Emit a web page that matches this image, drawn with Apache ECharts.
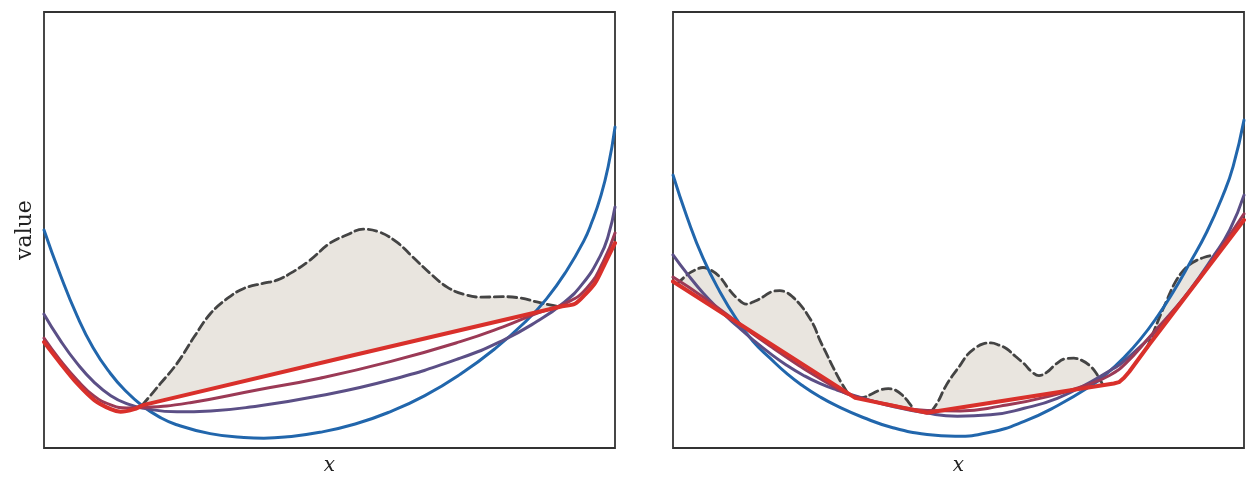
<!DOCTYPE html>
<html><head><meta charset="utf-8">
<script src="https://cdn.jsdelivr.net/npm/echarts@6/dist/echarts.min.js"></script>
<style>html,body{margin:0;padding:0;background:#fff}#c{width:1254px;height:484px}</style>
</head><body><div id="c"></div>
<script>
// ---------- LEFT PANEL ----------
const leftBlueX = [0, 2.8, 5.8, 8.6, 11.6, 14.4, 17.2, 20.1, 23.1, 29.1, 35.0, 38.5, 42.2, 48.3, 54.5, 60.6, 66.7, 72.9, 79.0, 84.5, 88.0, 91.5, 94.5, 96.0, 97.4, 98.8, 100];
const leftBlueY = [50.0, 39.9, 30.3, 23.0, 17.15, 12.95, 9.7, 7.2, 5.4, 3.3, 2.4, 2.25, 2.5, 3.6, 5.5, 8.3, 12.0, 16.9, 22.8, 29.2, 34.2, 40.6, 47.4, 52.0, 57.3, 64.5, 73.6];

const leftPurpleX = [0, 2.8, 5.8, 8.8, 11.7, 14.6, 17.5, 23.3, 29.2, 36.1, 48.3, 60.6, 72.9, 80.4, 86.3, 90.9, 94.4, 97.4, 98.8, 100];
const leftPurpleY = [30.7, 24.8, 19.4, 15.05, 12.0, 10.1, 9.1, 8.3, 8.5, 9.4, 12.0, 15.6, 20.6, 24.7, 29.0, 33.2, 37.8, 44.0, 48.6, 55.3];

const leftMaroonX = [0, 2.8, 5.8, 8.8, 11.7, 14.5, 17.5, 25.6, 37.3, 48.3, 60.6, 72.9, 80.4, 86.3, 91.5, 95.0, 97.9, 100];
const leftMaroonY = [25.2, 20.2, 15.6, 11.9, 9.9, 9.2, 9.3, 10.4, 13.3, 16.0, 19.8, 24.4, 27.8, 30.9, 33.3, 36.6, 42.6, 49.3];

const leftRedX = [0, 2.9, 5.8, 8.8, 11.7, 13.4, 15.8, 17.5, 90.4, 93.0, 94.7, 96.5, 98.2, 100];
const leftRedY = [24.3, 19.4, 14.8, 11.0, 8.9, 8.3, 8.9, 9.9, 32.4, 33.1, 35.1, 37.8, 42.2, 47.0];

const leftDashX = [17.2, 20.4, 23.3, 26.3, 29.2, 32.1, 35.0, 38.5, 40.8, 43.6, 46.6, 50.1, 53.1, 55.9, 58.8, 61.8, 64.6, 67.6, 70.6, 73.4, 76.4, 80.4, 83.4, 86.3, 88.6, 90.4];
const leftDashY = [9.8, 14.8, 19.4, 25.5, 30.9, 34.3, 36.6, 37.8, 38.5, 40.4, 43.1, 47.0, 48.9, 50.2, 49.5, 47.2, 43.8, 40.1, 36.9, 35.3, 34.6, 34.7, 34.4, 33.5, 32.8, 32.4];

// ---------- RIGHT PANEL ----------
const rightBlueX = [0, 2.45, 5.25, 8.23, 11.2, 14.0, 17.0, 20.0, 22.8, 25.7, 28.7, 33.3, 38.5, 44.5, 49.4, 55.5, 61.5, 67.3, 73.0, 76.0, 78.8, 81.8, 84.8, 87.6, 90.5, 93.5, 96.3, 98.1, 100];
const rightBlueY = [62.6, 53.0, 43.6, 35.8, 29.4, 24.5, 20.6, 17.0, 14.2, 11.75, 9.65, 7.0, 4.65, 3.1, 2.7, 3.6, 6.1, 9.7, 14.1, 17.1, 20.5, 24.85, 30.1, 35.8, 42.4, 49.6, 57.9, 64.6, 75.2];

const rightPurpleX = [0, 2.4, 5.3, 8.2, 11.2, 14.1, 17.0, 19.9, 22.8, 25.7, 28.7, 33.3, 38.9, 44.4, 49.8, 55.6, 61.5, 67.3, 73.2, 76.7, 78.8, 84.8, 90.5, 94.6, 97.5, 100];
const rightPurpleY = [44.3, 40.1, 35.5, 31.6, 28.0, 24.7, 21.7, 19.0, 16.7, 14.8, 13.3, 11.4, 9.4, 8.0, 7.3, 7.6, 9.1, 11.4, 15.2, 17.9, 19.7, 27.1, 36.2, 43.9, 50.0, 58.0];

const rightMaroonX = [0, 5.3, 17.0, 28.5, 32.2, 38.0, 44.5, 50.3, 57.3, 66.0, 73.0, 76.5, 79.2, 83.5, 90.5, 94.6, 100];
const rightMaroonY = [39.2, 34.6, 23.4, 13.8, 11.7, 9.9, 8.6, 8.5, 9.6, 11.9, 14.7, 16.7, 19.3, 25.5, 36.0, 43.3, 53.7];

const rightRedX = [0, 31.9, 44.5, 77.2, 78.1, 79.0, 79.9, 83.5, 100];
const rightRedY = [38.2, 11.5, 8.1, 14.8, 15.1, 16.1, 17.5, 23.9, 52.3];

const rightDashAX = [0.7, 2.45, 3.85, 5.25, 6.65, 8.23, 9.63, 11.2, 12.8, 14.4, 15.8, 17.2, 18.7, 20.0, 21.0, 22.2, 23.5, 24.7, 25.7, 27.0, 28.0, 29.2, 30.5];
const rightDashAY = [37.6, 39.7, 40.8, 41.4, 40.8, 39.2, 36.7, 34.4, 33.0, 33.7, 34.7, 35.8, 36.1, 35.6, 34.6, 33.0, 30.7, 28.0, 24.8, 21.3, 18.6, 15.6, 12.8];
const rightDashBX = [32.2, 33.4, 34.8, 36.3, 37.7, 38.9, 40.1, 41.2, 42.2];
const rightDashBY = [11.4, 11.6, 12.4, 13.3, 13.6, 13.3, 12.2, 10.6, 8.8];
const rightDashCX = [45.2, 46.4, 47.6, 48.9, 50.3, 51.5, 52.9, 54.3, 55.7, 57.1, 58.5, 59.9, 61.5, 62.9, 64.1, 65.5, 67.1, 68.8, 70.2, 71.6, 72.9, 74.1, 75.3];
const rightDashCY = [8.3, 10.6, 13.8, 16.5, 19.0, 21.3, 22.9, 23.9, 24.1, 23.6, 22.7, 21.1, 19.3, 17.4, 16.6, 17.4, 19.3, 20.5, 20.6, 20.1, 19.0, 17.2, 14.4];
const rightDashDX = [83.0, 84.1, 85.3, 86.5, 87.7, 89.0, 90.4, 91.8, 93.2, 94.4, 95.5];
const rightDashDY = [22.9, 26.4, 30.3, 33.9, 37.4, 40.1, 42.0, 43.1, 43.8, 44.2, 44.5];

// ---------- helpers ----------
const C = { blue: '#2166ac', purple: '#5b4f86', maroon: '#9b3a56', red: '#d9302b', dash: '#444444', fill: '#e9e5df', frame: '#333333' };
function pairs(xs, ys) { return xs.map((x, i) => [x, ys[i]]); }
function region(dx, dy, rx, ry) {
  const a = dx[0], b = dx[dx.length - 1];
  const inner = pairs(rx, ry).filter(p => p[0] > a && p[0] < b).reverse();
  return pairs(dx, dy).concat(inner);
}
function fillSeries(idx, poly) {
  return {
    type: 'custom', xAxisIndex: idx, yAxisIndex: idx, data: [[50, 50]], z: 1, silent: true,
    renderItem: function (params, api) {
      return { type: 'polygon', shape: { points: poly.map(p => api.coord(p)) }, style: { fill: C.fill } };
    }
  };
}
function lineSeries(idx, xs, ys, color, width, smooth, z, dash) {
  return {
    type: 'line', xAxisIndex: idx, yAxisIndex: idx, data: pairs(xs, ys), symbol: 'none', showSymbol: false,
    smooth: smooth, z: z, silent: true,
    lineStyle: { color: color, width: width, type: dash || 'solid', cap: 'round', join: 'round' }
  };
}
function axisBase(idx) {
  return { gridIndex: idx, type: 'value', min: 0, max: 100, axisLine: { show: false }, axisTick: { show: false }, axisLabel: { show: false }, splitLine: { show: false } };
}

const chart = echarts.init(document.getElementById('c'));
const xTitle = { fontFamily: 'DejaVu Serif', fontStyle: 'italic', fontSize: 20, color: '#222' };
chart.setOption({
  animation: false,
  backgroundColor: '#ffffff',
  grid: [
    { left: 44, top: 12, width: 571, height: 436, show: true, borderColor: C.frame, borderWidth: 1.8, backgroundColor: 'transparent' },
    { left: 673, top: 12, width: 571, height: 436, show: true, borderColor: C.frame, borderWidth: 1.8, backgroundColor: 'transparent' }
  ],
  xAxis: [
    Object.assign(axisBase(0), { name: 'x', nameLocation: 'middle', nameGap: 8, nameTextStyle: xTitle }),
    Object.assign(axisBase(1), { name: 'x', nameLocation: 'middle', nameGap: 8, nameTextStyle: xTitle })
  ],
  yAxis: [
    Object.assign(axisBase(0), { name: 'value', nameLocation: 'middle', nameGap: 8, nameRotate: 90, nameTextStyle: { fontFamily: 'DejaVu Serif', fontSize: 22, color: '#222' } }),
    axisBase(1)
  ],
  series: [
    fillSeries(0, region(leftDashX, leftDashY, leftRedX, leftRedY)),
    fillSeries(1, region(rightDashAX, rightDashAY, rightRedX, rightRedY)),
    fillSeries(1, region(rightDashBX, rightDashBY, rightRedX, rightRedY)),
    fillSeries(1, region(rightDashCX, rightDashCY, rightRedX, rightRedY)),
    fillSeries(1, region(rightDashDX, rightDashDY, rightRedX, rightRedY)),
    lineSeries(0, leftDashX, leftDashY, C.dash, 2.8, 0.4, 3, [9, 4.5]),
    lineSeries(1, rightDashAX, rightDashAY, C.dash, 2.8, 0.4, 3, [9, 4.5]),
    lineSeries(1, rightDashBX, rightDashBY, C.dash, 2.8, 0.4, 3, [9, 4.5]),
    lineSeries(1, rightDashCX, rightDashCY, C.dash, 2.8, 0.4, 3, [9, 4.5]),
    lineSeries(1, rightDashDX, rightDashDY, C.dash, 2.8, 0.4, 3, [9, 4.5]),
    lineSeries(0, leftBlueX, leftBlueY, C.blue, 3, 0.5, 4),
    lineSeries(0, leftPurpleX, leftPurpleY, C.purple, 3, 0.5, 5),
    lineSeries(0, leftMaroonX, leftMaroonY, C.maroon, 3, 0.5, 6),
    lineSeries(0, leftRedX, leftRedY, C.red, 4, 0.3, 7),
    lineSeries(1, rightBlueX, rightBlueY, C.blue, 3, 0.5, 4),
    lineSeries(1, rightPurpleX, rightPurpleY, C.purple, 3, 0.5, 5),
    lineSeries(1, rightMaroonX, rightMaroonY, C.maroon, 3, 0.5, 6),
    lineSeries(1, rightRedX, rightRedY, C.red, 4, false, 7)
  ]
});
</script>
</body></html>
